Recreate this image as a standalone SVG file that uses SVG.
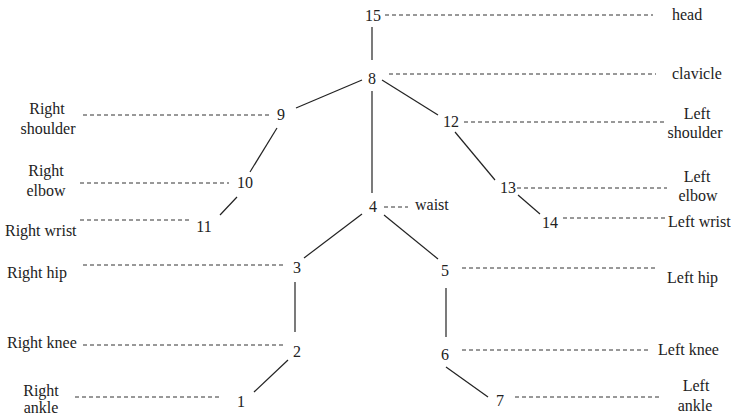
<svg xmlns="http://www.w3.org/2000/svg" width="731" height="417" viewBox="0 0 731 417">
<style>
text{font-family:"Liberation Serif","Times New Roman",serif;font-size:16px;fill:#222}
.n{text-anchor:middle}
.bone{stroke:#222;stroke-width:1.2;fill:none}
.lead{stroke:#333;stroke-width:1;stroke-dasharray:4 3;fill:none}
</style>
<rect width="731" height="417" fill="#fff"/>
<g id="connectors">
<line class="bone" x1="372" y1="27" x2="372" y2="60"/>
<line class="bone" x1="362" y1="80" x2="296" y2="108"/>
<line class="bone" x1="277" y1="128" x2="250" y2="172"/>
<line class="bone" x1="237" y1="197" x2="220" y2="215"/>
<line class="bone" x1="372" y1="91" x2="372" y2="193"/>
<line class="bone" x1="382" y1="80" x2="438" y2="115"/>
<line class="bone" x1="455" y1="132" x2="495" y2="180"/>
<line class="bone" x1="518" y1="195" x2="540" y2="214"/>
<line class="bone" x1="384" y1="215" x2="438" y2="259"/>
<line class="bone" x1="362" y1="214" x2="304" y2="258"/>
<line class="bone" x1="295" y1="282" x2="295" y2="332"/>
<line class="bone" x1="288" y1="360" x2="254" y2="392"/>
<line class="bone" x1="446" y1="288" x2="446" y2="337"/>
<line class="bone" x1="446" y1="367" x2="488" y2="397"/>
<line class="lead" x1="385" y1="15" x2="653" y2="15"/>
<line class="lead" x1="389" y1="74" x2="656" y2="74"/>
<line class="lead" x1="83" y1="115" x2="270" y2="115"/>
<line class="lead" x1="464" y1="122" x2="667" y2="122"/>
<line class="lead" x1="80" y1="183" x2="229" y2="183"/>
<line class="lead" x1="517" y1="188" x2="667" y2="188"/>
<line class="lead" x1="384" y1="207" x2="408" y2="207"/>
<line class="lead" x1="563" y1="218" x2="667" y2="218"/>
<line class="lead" x1="80" y1="220" x2="192" y2="220"/>
<line class="lead" x1="83" y1="265" x2="283" y2="265"/>
<line class="lead" x1="462" y1="268" x2="658" y2="268"/>
<line class="lead" x1="83" y1="345" x2="283" y2="345"/>
<line class="lead" x1="462" y1="350" x2="648" y2="350"/>
<line class="lead" x1="75" y1="397" x2="220" y2="397"/>
<line class="lead" x1="515" y1="397" x2="662" y2="397"/>
</g>
<g id="n15"><text class="n" x="373" y="21">15</text><text x="672" y="20">head</text></g>
<g id="n8"><text class="n" x="372" y="84">8</text><text x="672" y="79">clavicle</text></g>
<g id="n9"><text class="n" x="281" y="120">9</text><text class="n" x="47" y="114">Right</text><text class="n" x="48" y="134">shoulder</text></g>
<g id="n12"><text class="n" x="451" y="127">12</text><text class="n" x="697" y="119">Left</text><text class="n" x="695" y="138">shoulder</text></g>
<g id="n10"><text class="n" x="245" y="188">10</text><text class="n" x="46" y="176">Right</text><text class="n" x="46" y="196">elbow</text></g>
<g id="n13"><text class="n" x="508" y="193">13</text><text class="n" x="697" y="182">Left</text><text class="n" x="698" y="201">elbow</text></g>
<g id="n4"><text class="n" x="373" y="212">4</text><text x="415" y="210">waist</text></g>
<g id="n11"><text class="n" x="204" y="232">11</text><text x="5" y="236">Right wrist</text></g>
<g id="n14"><text class="n" x="550" y="228">14</text><text x="668" y="227">Left wrist</text></g>
<g id="n3"><text class="n" x="297" y="273">3</text><text x="7" y="278">Right hip</text></g>
<g id="n5"><text class="n" x="445" y="276">5</text><text x="667" y="283">Left hip</text></g>
<g id="n2"><text class="n" x="297" y="357">2</text><text x="7" y="348">Right knee</text></g>
<g id="n6"><text class="n" x="445" y="360">6</text><text x="658" y="355">Left knee</text></g>
<g id="n1"><text class="n" x="241" y="407">1</text><text class="n" x="41" y="396">Right</text><text class="n" x="41" y="413">ankle</text></g>
<g id="n7"><text class="n" x="500" y="406">7</text><text class="n" x="696" y="391">Left</text><text class="n" x="695" y="411">ankle</text></g>
</svg>
